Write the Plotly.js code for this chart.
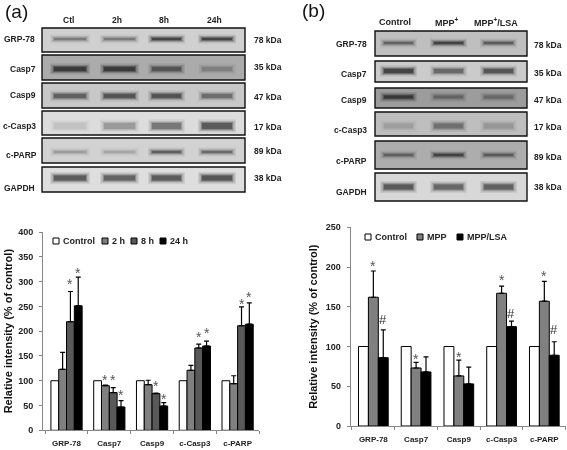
<!DOCTYPE html>
<html><head><meta charset="utf-8">
<script src="https://cdn.plot.ly/plotly-3.0.1.min.js"></script>
<style>html,body{margin:0;padding:0;background:#fff;overflow:hidden}#chart{width:567px;height:450px;filter:blur(0.35px)}</style>
</head><body><div id="chart"></div>
<script>
// ---------- bar chart data ----------
const targets = ['GRP-78','Casp7','Casp9','c-Casp3','c-PARP'];

const namesA = ['Control','2 h','8 h','24 h'];
const control_A = [100,100,100,100,100];
const h2_A  = [123,90,92,121,94];
const h8_A  = [219,76,74,166,211];
const h24_A = [251,47,49,170,214];
const h2_A_err  = [34,1,9,10,16];
const h8_A_err  = [61,10,1,8,38];
const h24_A_err = [58,13,7,10,43];

const namesB = ['Control','MPP','MPP/LSA'];
const control_B = [100,100,100,100,100];
const mpp_B = [162,73,63,167,157];
const lsa_B = [86,68,53,125,89];
const mpp_B_err = [33,7,20,9,25];
const lsa_B_err = [35,19,21,7,17];

// significance marks: [group, series, value, mark]
const marksA = [[0,2,301,'*'],[0,3,323,'*'],[1,1,107,'*'],[1,2,108,'*'],[1,3,78,'*'],
                [2,2,95,'*'],[2,3,70,'*'],[3,2,194,'*'],[3,3,202,'*'],[4,2,261,'*'],[4,3,274,'*']];
const marksB = [[0,1,205,'*'],[0,2,134,'#'],[1,1,88,'*'],[2,1,91,'*'],[3,1,187,'*'],[3,2,142,'#'],[4,1,193,'*'],[4,2,121,'#']];

// ---------- western blot band densities ----------
const rows = ['GRP-78','Casp7','Casp9','c-Casp3','c-PARP','GAPDH'];
const kdaA = ['78 kDa','35 kDa','47 kDa','17 kDa','89 kDa','38 kDa'];
const kdaB = ['78 kDa','35 kDa','47 kDa','17 kDa','89 kDa','38 kDa'];
const lanesA = ['Ctl','2h','8h','24h'];
const lanesB = ['Control','MPP<sup>+</sup>','MPP<sup>+</sup>/LSA'];
const densA = [[.45,.45,.95,.9],[1,.95,.6,.25],[.6,.7,.7,.5],[.1,.3,.5,.7],[.25,.2,.65,.55],[.7,.65,.7,.75]];
const densB = [[.55,.85,.6],[1,.55,.7],[.85,.4,.35],[.15,.45,.2],[.5,.8,.55],[.7,.6,.65]];

// ---------- page geometry ----------
const W=567,H=450;
const FONT='"Liberation Sans", Arial, sans-serif';
const colsA=['#ffffff','#808080','#595959','#000000'];
const colsB=['#ffffff','#808080','#000000'];
const spanA=0.73, spanB=0.695;   // share of a category taken by its bars
const unitA=42.8, unitB=42.75;   // pixels per category

const panelA={x0:42,x1:245,
  frames:[[28,52],[55,80],[83,108],[111,135],[138,163],[167,192]],
  bandY:[39,69,96,126,152,178], thick:[3,5,5,7,3,6],
  bg:['#d0d0d0','#ababab','#c8c8c8','#dcdcdc','#d2d2d2','#dedede'],
  lanes:[[50,90],[100,139],[148,185],[198,236]]};
const panelB={x0:375,x1:527,
  frames:[[31,56],[61,82],[88,108],[112,136],[141,169],[173,201]],
  bandY:[43,71,97,126,155,187], thick:[3,5,4,6,3,6],
  bg:['#bfbfbf','#cbcbcb','#9c9c9c','#bebebe','#adadad','#d8d8d8'],
  lanes:[[380,417],[430,467],[480,517]]};

const traces=[],shapes=[],annots=[];

function addBars(names,vals,errs,cols,xa,ya,span){
  const bw=span/names.length;
  names.forEach((n,i)=>{
    traces.push({type:'bar',name:n,x:targets,y:vals[i],xaxis:xa,yaxis:ya,showlegend:false,
      width:bw,offset:-span/2+i*bw,
      marker:{color:cols[i],line:{color:'#000',width:1}},
      error_y: errs[i]?{type:'data',symmetric:false,array:errs[i],arrayminus:targets.map(()=>0),
        color:'#000',thickness:1.2,width:2.5}:{visible:false}});
  });
}
addBars(namesA,[control_A,h2_A,h8_A,h24_A],[null,h2_A_err,h8_A_err,h24_A_err],colsA,'x','y',spanA);
addBars(namesB,[control_B,mpp_B,lsa_B],[null,mpp_B_err,lsa_B_err],colsB,'x2','y2',spanB);

function txt(x,y,t,o){annots.push(Object.assign({xref:'x3',yref:'y3',x,y,text:t,showarrow:false,
  xanchor:'center',yanchor:'middle',font:{family:FONT,size:8.5,color:'#222'}},o||{}));}
const boldT=t=>'<b>'+t+'</b>';

function addMarks(marks,n,xa,ya,unit,span){
  const bw=unit*span/n;
  marks.forEach(([g,s,v,m])=>{
    annots.push({xref:xa,yref:ya,x:g,y:v,xshift:(s-(n-1)/2)*bw,yshift:m==='*'?-3:0,text:m,showarrow:false,
      xanchor:'center',yanchor:'middle',font:{family:FONT,size:m==='*'?14:13,color:m==='*'?'#555':'#333'}});
  });
}
addMarks(marksA,4,'x','y',unitA,spanA);
addMarks(marksB,3,'x2','y2',unitB,spanB);

function addBlot(P,dens){
  rows.forEach((r,i)=>{
    shapes.push({type:'rect',xref:'x3',yref:'y3',x0:P.x0,x1:P.x1,y0:P.frames[i][0],y1:P.frames[i][1],
      fillcolor:P.bg[i],line:{color:'#111',width:1.4},layer:'below'});
    dens[i].forEach((d,k)=>{
      const yb=P.bandY[i],[a,b]=P.lanes[k],w=P.thick[i];
      [[w+6,.10,0],[w+3,.2,1.5],[w+1,.3,3],[w-1,.45,4]].forEach(([lw,op,inset])=>{
        traces.push({type:'scatter',mode:'lines',xaxis:'x3',yaxis:'y3',showlegend:false,hoverinfo:'skip',
          x:[a+inset,b-inset],y:[yb,yb],opacity:op*Math.min(1,d*1.15),line:{color:'#111',width:Math.max(lw,1)}});
      });
    });
  });
}
addBlot(panelA,densA);
addBlot(panelB,densB);

// panel letters
txt(3,11,'(a)',{xanchor:'left',font:{family:FONT,size:19,color:'#111'}});
txt(300,10,'(b)',{xanchor:'left',font:{family:FONT,size:19,color:'#111'}});

// blot labels A
[[37,39],[38,69],[38,95],[38,126],[39,155],[37,188]].forEach(([x,y],i)=>txt(x,y,boldT(rows[i]),{xanchor:'right'}));
[40,67,97,127,151,178].forEach((y,i)=>txt(252,y,boldT(kdaA[i]),{xanchor:'left'}));
[68,117,164,214].forEach((x,i)=>txt(x,20,boldT(lanesA[i])));
// blot labels B
[44,74,100,130,161,192].forEach((y,i)=>txt(369,y,boldT(rows[i]),{xanchor:'right'}));
[45,73,100,127,157,187].forEach((y,i)=>txt(532,y,boldT(kdaB[i]),{xanchor:'left'}));
[395,447,496].forEach((x,i)=>txt(x,22,boldT(lanesB[i]),{font:{family:FONT,size:9,color:'#222'}}));

// legends
function legend(names,cols,xs,y){
  names.forEach((n,i)=>{
    shapes.push({type:'rect',xref:'x3',yref:'y3',x0:xs[i],x1:xs[i]+6,y0:y-3,y1:y+3,fillcolor:cols[i],line:{color:'#000',width:1}});
    txt(xs[i]+8,y,boldT(n),{xanchor:'left',font:{family:FONT,size:9,color:'#222'}});
  });
}
legend(namesA,colsA,[53,102,131,160],241);
legend(namesB,colsB,[365,417,457],237);

const axBase={showgrid:false,zeroline:false,showline:true,linecolor:'#888',linewidth:1,ticks:'outside',
  ticklen:3,tickcolor:'#888',ticklabelstandoff:4,tickfont:{family:FONT,size:9,color:'#222',weight:'bold'}};
const xBase=Object.assign({},axBase,{type:'category',tickson:'boundaries',ticklabelstandoff:5,
  tickfont:{family:FONT,size:8,color:'#222',weight:'bold'}});
const yTitle=s=>({text:'<b>Relative intensity (% of control)</b>',font:{family:FONT,size:11,color:'#111'},standoff:s});

const layout={width:W,height:H,margin:{l:0,r:0,t:0,b:0,pad:0},paper_bgcolor:'#fff',plot_bgcolor:'rgba(0,0,0,0)',
  barmode:'group',bargroupgap:0,showlegend:false,
  xaxis:Object.assign({},xBase,{domain:[43/W,259/W],anchor:'y',categoryorder:'array',categoryarray:targets,range:[-0.55,4.5]}),
  yaxis:Object.assign({},axBase,{domain:[1-430.3/H,1-232/H],anchor:'x',range:[0,400],dtick:50,title:yTitle(3)}),
  xaxis2:Object.assign({},xBase,{domain:[350.7/W,565.7/W],anchor:'y2',categoryorder:'array',categoryarray:targets,range:[-0.53,4.5]}),
  yaxis2:Object.assign({},axBase,{domain:[1-426/H,1-227.3/H],anchor:'x2',range:[0,250],dtick:50,title:yTitle(6)}),
  xaxis3:{domain:[0,1],range:[0,W],visible:false,anchor:'y3',fixedrange:true},
  yaxis3:{domain:[0,1],range:[H,0],visible:false,anchor:'x3',fixedrange:true},
  shapes,annotations:annots};
Plotly.newPlot('chart',traces,layout,{displayModeBar:false,staticPlot:true});
</script></body></html>
